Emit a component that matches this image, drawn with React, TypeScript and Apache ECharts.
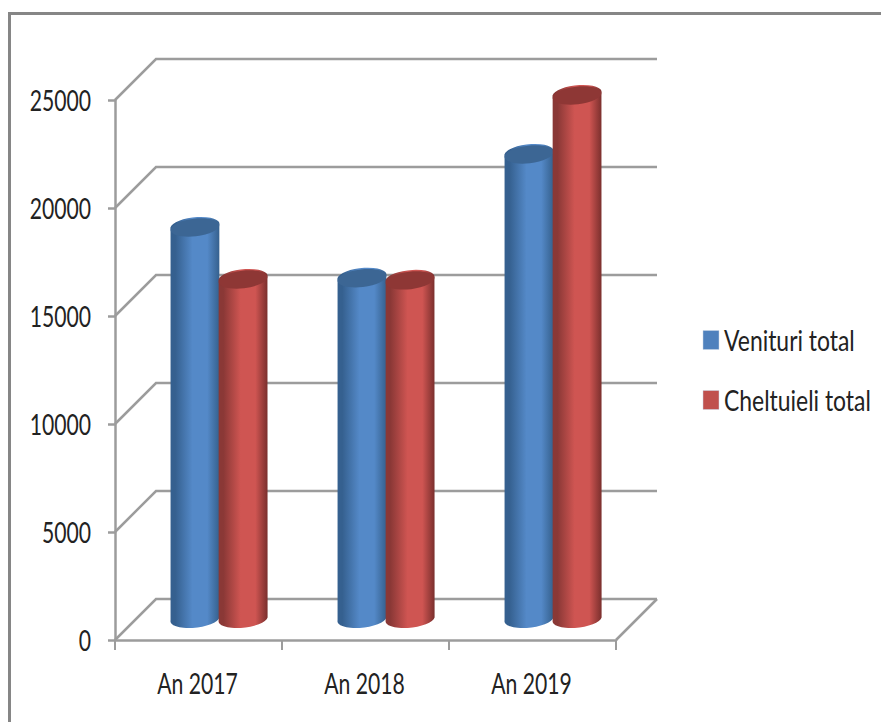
import React, { useEffect, useRef } from "react";
import * as echarts from "echarts";

const categories = ["An 2017", "An 2018", "An 2019"];
const venituri = [18150, 15800, 21530];
const cheltuieli = [15740, 15700, 24260];
const wallTicks = [0, 5000, 10000, 15000, 20000, 25000];
const seriesNames = ["Venituri total", "Cheltuieli total"];

const DEPTH = 41;
const GRID_COLOR = "#9c9c9c";
const FONT = "Lato, 'Liberation Sans', sans-serif";
const FONT_SIZE = 29;
const NARROW = 0.73;
const LEGEND_NARROW = 0.79;
const TEXT_COLOR = "#222222";
const TILT = 6.5;

const grad = (edgeL: string, mid: string, edgeR: string) => ({
  type: "linear", x: 0, y: 0, x2: 1, y2: 0,
  colorStops: [
    { offset: 0, color: edgeL },
    { offset: 0.1, color: edgeL },
    { offset: 0.45, color: mid },
    { offset: 0.75, color: mid },
    { offset: 1, color: edgeR },
  ],
});

const palettes = [
  { body: grad("#35608f", "#5489c8", "#35608d"), top: "#3c6694", legend: "#4f81bd" },
  { body: grad("#8a3836", "#cf5552", "#7a2f2d"), top: "#8e3735", legend: "#c0504d" },
];

const narrowText = (text: string, x: number, y: number, align: string) => ({
  type: "text",
  x,
  y,
  scaleX: NARROW,
  style: { text, fontFamily: FONT, fontSize: FONT_SIZE, fill: TEXT_COLOR, align, verticalAlign: "middle" },
});

function cylinder(seriesIdx: number) {
  return (_params: any, api: any) => {
    const cat = api.value(0);
    const val = api.value(1);
    const band = api.size([1, 0])[0];
    const rx = band * 0.147;
    const ry = 8.8;
    const dir = seriesIdx === 0 ? -1 : 1;
    const base = api.coord([cat, 0]);
    const head = api.coord([cat, val]);
    const cx = base[0] + DEPTH / 2 + dir * band * 0.144;
    const botY = base[1] - DEPTH / 2 - 2;
    const topY = head[1] - DEPTH / 2;
    const rad = (TILT * Math.PI) / 180;
    const ex = rx * Math.cos(rad);
    const ey = rx * Math.sin(rad);
    const d =
      `M ${cx - ex} ${topY + ey} L ${cx - ex} ${botY + ey} ` +
      `A ${rx} ${ry} ${-TILT} 0 0 ${cx + ex} ${botY - ey} ` +
      `L ${cx + ex} ${topY - ey} ` +
      `A ${rx} ${ry} ${-TILT} 0 0 ${cx - ex} ${topY + ey} Z`;
    return {
      type: "group",
      children: [
        { type: "path", shape: { pathData: d }, style: { fill: palettes[seriesIdx].body } },
        {
          type: "ellipse",
          x: cx,
          y: topY,
          rotation: rad,
          shape: { cx: 0, cy: 0, rx, ry },
          style: { fill: palettes[seriesIdx].top },
        },
      ],
    };
  };
}

function wallLine(params: any, api: any) {
  const sys = params.coordSys;
  const v = api.value(0);
  const y = api.coord([0, v])[1];
  const L = sys.x;
  const R = sys.x + sys.width;
  const children: any[] = [
    {
      type: "polyline",
      shape: { points: [[L, y], [L + DEPTH, y - DEPTH], [R + DEPTH, y - DEPTH]] },
      style: { stroke: GRID_COLOR, lineWidth: 2.5, fill: "none" },
    },
    narrowText(String(v), L - 24, y, "right"),
  ];
  if (v === 0) {
    children.push({
      type: "line",
      shape: { x1: R, y1: y, x2: R + DEPTH, y2: y - DEPTH },
      style: { stroke: GRID_COLOR, lineWidth: 2.5 },
    });
  }
  return { type: "group", children };
}

function categoryLabel(_params: any, api: any) {
  const i = api.value(0);
  const p = api.coord([i, 0]);
  return narrowText(categories[i], p[0] - 1, p[1] + 43, "center");
}

export default function App() {
  const ref = useRef<HTMLDivElement>(null);
  useEffect(() => {
    const chart = echarts.init(ref.current!, undefined, { renderer: "svg" });
    const legendRows = seriesNames.flatMap((name, i) => {
      const y = 340 + i * 60;
      return [
        {
          type: "rect",
          shape: { x: 703, y: y - 9.5, width: 16, height: 19 },
          style: { fill: palettes[i].legend, stroke: "#c9d6e6", lineWidth: 0.5 },
        },
        {
          type: "text",
          x: 724,
          y,
          scaleX: LEGEND_NARROW,
          style: { text: name, fontFamily: FONT, fontSize: FONT_SIZE, fill: TEXT_COLOR, align: "left", verticalAlign: "middle" },
        },
      ];
    });
    chart.setOption({
      animation: false,
      backgroundColor: "#ffffff",
      grid: { left: 115, top: 100, width: 501, height: 540 },
      xAxis: {
        type: "category",
        data: categories,
        axisLine: { lineStyle: { color: GRID_COLOR, width: 2.5 } },
        axisTick: { show: true, length: 10, lineStyle: { color: GRID_COLOR, width: 2 } },
        axisLabel: { show: false },
        splitLine: { show: false },
      },
      yAxis: {
        type: "value",
        min: 0,
        max: 25000,
        interval: 5000,
        axisLine: { show: true, lineStyle: { color: GRID_COLOR, width: 2.5 } },
        axisTick: { show: true, length: 7, lineStyle: { color: GRID_COLOR, width: 2.5 } },
        axisLabel: { show: false },
        splitLine: { show: false },
      },
      graphic: [
        { type: "rect", shape: { x: 8, y: 12, width: 873, height: 3 }, style: { fill: "#868686" } },
        { type: "rect", shape: { x: 8, y: 12, width: 3, height: 710 }, style: { fill: "#868686" } },
        ...legendRows,
      ],
      series: [
        {
          type: "custom",
          name: "walls",
          z: 1,
          silent: true,
          clip: false,
          data: wallTicks.map((v) => [v]),
          encode: { y: 0 },
          renderItem: wallLine,
        },
        {
          type: "custom",
          name: "categoryLabels",
          z: 1,
          silent: true,
          clip: false,
          data: categories.map((_c, i) => [i]),
          encode: { x: 0 },
          renderItem: categoryLabel,
        },
        {
          type: "custom",
          name: seriesNames[0],
          z: 2,
          data: venituri.map((v, i) => [i, v]),
          encode: { x: 0, y: 1 },
          renderItem: cylinder(0),
        },
        {
          type: "custom",
          name: seriesNames[1],
          z: 3,
          data: cheltuieli.map((v, i) => [i, v]),
          encode: { x: 0, y: 1 },
          renderItem: cylinder(1),
        },
      ],
    });
    return () => chart.dispose();
  }, []);
  return <div ref={ref} style={{ position: "fixed", left: 0, top: 0, width: 881, height: 722 }} />;
}
